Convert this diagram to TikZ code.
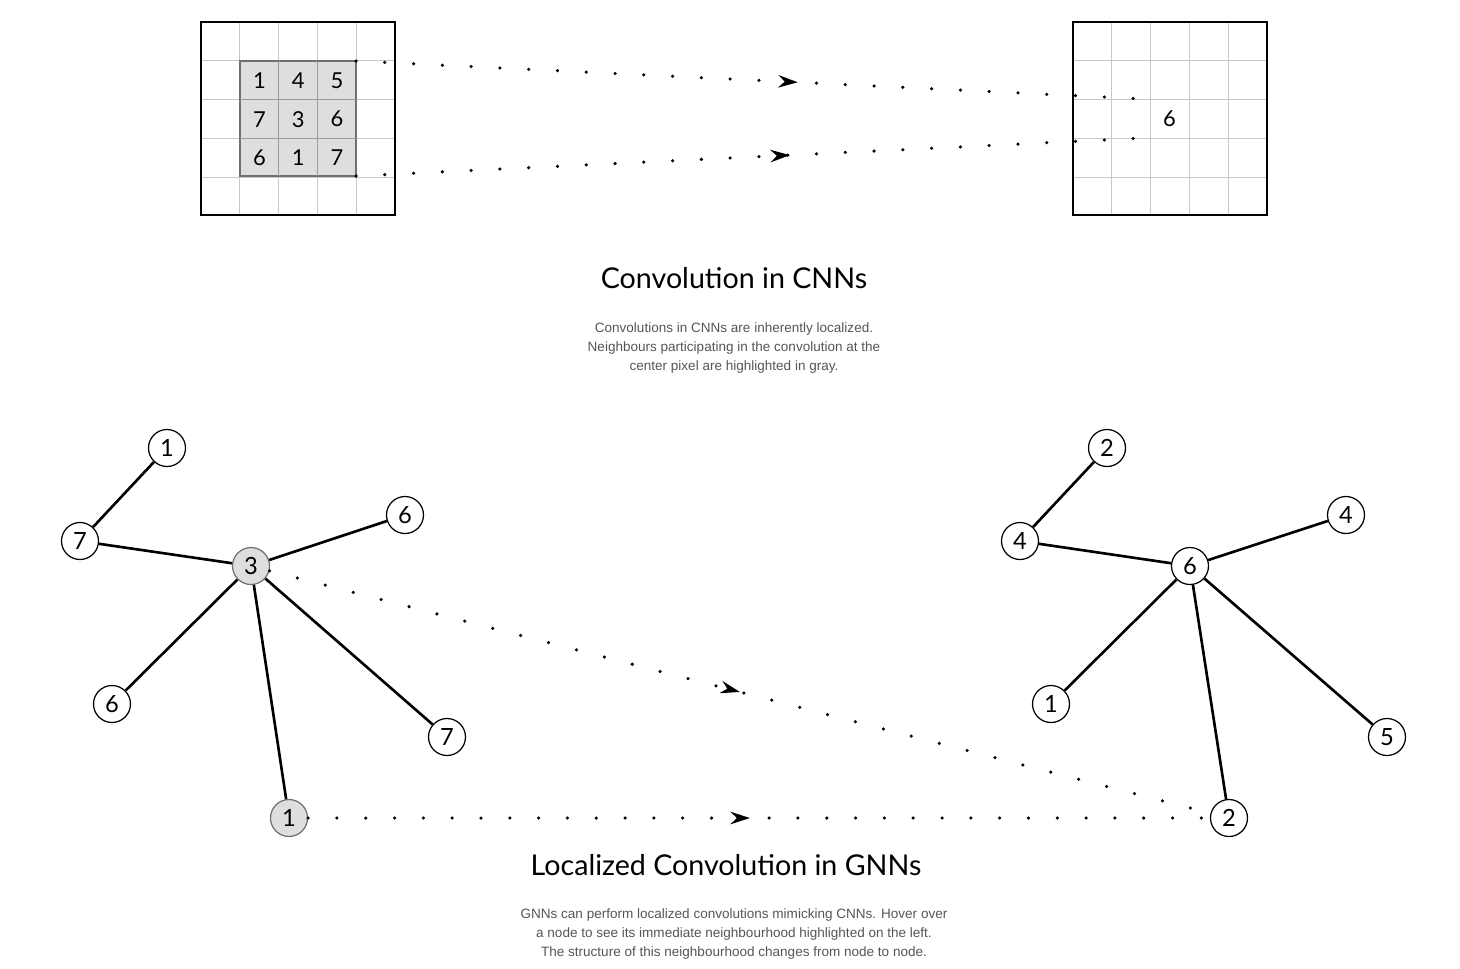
\documentclass[tikz,border=0pt]{standalone}
\usepackage{fontspec}
\setmainfont{Lato}
\newfontfamily\capfont{Liberation Sans}
\usetikzlibrary{arrows.meta,decorations.markings}

\definecolor{gridgray}{HTML}{C8C8C8}
\definecolor{nodegray}{HTML}{DEDEDE}
\definecolor{blockgray}{HTML}{707070}
\definecolor{textgray}{HTML}{555555}

\tikzset{
  cell/.style={draw=gridgray, line width=0.6pt},
  frame/.style={line width=1.4pt},
  pix/.style={font=\fontsize{12.5}{12.5}\selectfont},
  vertex/.style={circle, draw, line width=0.7pt, fill=white, minimum size=0.74cm, inner sep=0pt, font=\fontsize{13.5}{13.5}\selectfont},
  hot/.style={vertex, fill=nodegray, draw=blockgray},
  link/.style={line width=1.5pt},
  flow/.style={line width=2pt, line cap=round, dash pattern=on 0pt off 16.4pt,
    postaction={decorate}, decoration={markings, mark=at position #1 with {\arrow{Stealth[length=11pt,width=7pt]}}}},
  flow/.default=0.5,
  heading/.style={font=\fontsize{16.3}{18}\selectfont},
  caption/.style={align=center, text=textgray, font=\capfont\fontsize{7.7}{11}\selectfont}
}

\begin{document}
\begin{tikzpicture}[x=0.02cm, y=-0.02cm]
\useasboundingbox (0,0) rectangle (1460,968);

% the two pixel grids
\foreach \ox in {201,1073} {
  \foreach \i in {1,...,4} {
    \draw[cell] (\ox+38.8*\i,22) -- (\ox+38.8*\i,215);
    \draw[cell] (\ox,22+38.8*\i) -- (\ox+194,22+38.8*\i);
  }
}
\draw[fill=nodegray, draw=blockgray, line width=0.8pt] (240,61) rectangle (356,176);
\foreach \i in {1,2} {
  \draw[draw=blockgray!70, line width=0.6pt] (240+38.8*\i,61) -- (240+38.8*\i,176);
  \draw[draw=blockgray!70, line width=0.6pt] (240,61+38.8*\i) -- (356,61+38.8*\i);
}
\draw[frame] (201,22) rectangle (395,215);
\draw[frame] (1073,22) rectangle (1267,215);

\foreach \c/\r/\n in {0/0/1,1/0/4,2/0/5,0/1/7,1/1/3,2/1/6,0/2/6,1/2/1,2/2/7}
  \node[pix] (p\c\r) at (259.4+38.8*\c,80.4+38.8*\r) {\n};
\node[pix] (out) at (1169.4,119.2) {6};

\coordinate (blocktop) at (356,61);
\coordinate (blockbot) at (356,176);
\coordinate (outtop) at (1145,99);
\coordinate (outbot) at (1145,138);
\draw[flow=0.56] (blocktop) -- (outtop);
\draw[flow=0.55] (blockbot) -- (outbot);

\node[heading] (cnntitle) at (734,278) {Convolution in CNNs};
\node[caption] (cnntext) at (734,348) {Convolutions in CNNs are inherently localized.\\
  Neighbours participating in the convolution at the\\ center pixel are highlighted in gray.};

% input graph
\node[vertex] (a1) at (167,448) {1};
\node[vertex] (a7) at (80,541) {7};
\node[hot] (a3) at (251,566) {3};
\node[vertex] (a6) at (405,515) {6};
\node[vertex] (a6b) at (112,704) {6};
\node[vertex] (a7b) at (447,737) {7};
\node[hot] (a1b) at (289,818) {1};
\draw[link] (a1) -- (a7);
\draw[link] (a7) -- (a3);
\draw[link] (a3) -- (a6);
\draw[link] (a3) -- (a6b);
\draw[link] (a3) -- (a1b);
\draw[link] (a3) -- (a7b);

% output graph
\node[vertex] (b2) at (1107,448) {2};
\node[vertex] (b4) at (1020,541) {4};
\node[vertex] (b6) at (1190,566) {6};
\node[vertex] (b4b) at (1346,515) {4};
\node[vertex] (b1) at (1051,704) {1};
\node[vertex] (b5) at (1387,737) {5};
\node[vertex] (b2b) at (1229,818) {2};
\draw[link] (b2) -- (b4);
\draw[link] (b4) -- (b6);
\draw[link] (b6) -- (b4b);
\draw[link] (b6) -- (b1);
\draw[link] (b6) -- (b2b);
\draw[link] (b6) -- (b5);

\draw[flow=0.5] (a3) -- (b2b);
\draw[flow=0.49] (a1b) -- (b2b);

\node[heading] (gnntitle) at (726,865) {Localized Convolution in GNNs};
\node[caption] (gnntext) at (734,934) {GNNs can perform localized convolutions mimicking CNNs. Hover over\\
  a node to see its immediate neighbourhood highlighted on the left.\\
  The structure of this neighbourhood changes from node to node.};
\end{tikzpicture}
\end{document}
